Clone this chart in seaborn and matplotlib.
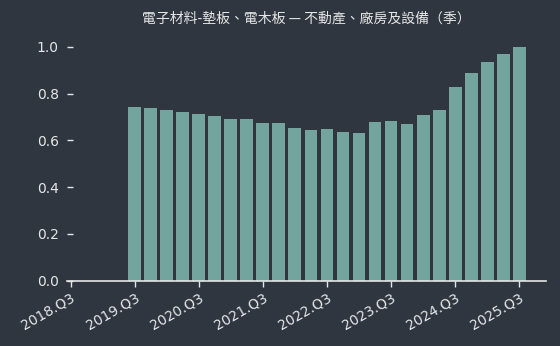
import numpy as np
import pandas as pd
import matplotlib
matplotlib.use("Agg")
import matplotlib.pyplot as plt
import seaborn as sns

title = "電子材料-墊板、電木板 — 不動產、廠房及設備（季）"
all_quarters = [f"{y}.Q{q}" for y in range(2018, 2026) for q in range(1, 5)]
all_quarters = all_quarters[2:all_quarters.index("2025.Q3") + 1]  # 2018.Q3 .. 2025.Q3
quarters = all_quarters[4:]  # 2019.Q3 .. 2025.Q3
values = [0.743, 0.739, 0.730, 0.722, 0.713, 0.704, 0.692, 0.692,
          0.675, 0.675, 0.653, 0.645, 0.649, 0.636, 0.632, 0.679,
          0.683, 0.670, 0.709, 0.730, 0.829, 0.889, 0.936, 0.970, 1.000]
tick_labels = [f"{y}.Q3" for y in range(2018, 2026)]

bg = "#2f3640"
bar_color = "#73a59e"
fg = "#e6e6e6"

sns.set_style("dark")
plt.rcParams["font.family"] = ["DejaVu Sans"]

fig = plt.figure(figsize=(5.6, 3.46), dpi=100, facecolor=bg)
ax = fig.add_axes([67 / 560, 1 - 280.5 / 346, (545.7 - 67) / 560, (280.5 - 35.3) / 346])
ax.set_facecolor(bg)

df = pd.DataFrame({"quarter": quarters, "value": values})
sns.barplot(data=df, x="quarter", y="value", order=all_quarters, color=bar_color,
            saturation=1, width=0.8, linewidth=0, edgecolor="none", ax=ax)

ax.set_xlim(-0.22, len(all_quarters) - 1 + 1.65)
ax.set_ylim(0, 1.05)
ax.set_xticks([all_quarters.index(t) for t in tick_labels])
ax.set_xticklabels(tick_labels, rotation=30, ha="right", rotation_mode="anchor")
ax.set_yticks([0, 0.2, 0.4, 0.6, 0.8, 1.0])
ax.set_yticklabels(["0.0", "0.2", "0.4", "0.6", "0.8", "1.0"])
ax.set_xlabel("")
ax.set_ylabel("")
ax.grid(False)

for s in ["top", "right", "left"]:
    ax.spines[s].set_visible(False)
ax.spines["bottom"].set_color(fg)
ax.spines["bottom"].set_linewidth(1.2)

ax.tick_params(axis="x", colors=fg, labelsize=10, length=4, width=1, direction="out", pad=3)
ax.tick_params(axis="y", colors=fg, labelsize=10, length=4, width=1, direction="in", pad=6)
ax.tick_params(axis="y", left=True)
ax.tick_params(axis="x", bottom=True)

ax.set_title(title, color=fg, fontsize=10, pad=9,
             fontfamily=["Noto Sans CJK TC", "DejaVu Sans"])

fig.savefig("out.png", dpi=100, facecolor=bg)
